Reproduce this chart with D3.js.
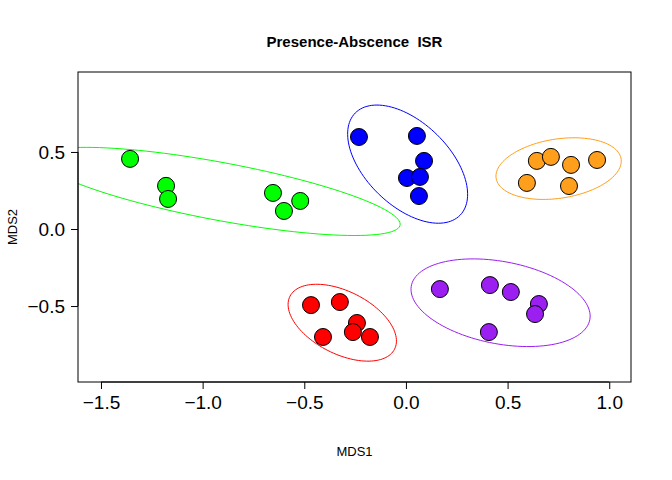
<!DOCTYPE html>
<html><head><meta charset="utf-8">
<script src="https://cdn.jsdelivr.net/npm/d3@7"></script>
<style>body{margin:0;background:#fff}</style></head>
<body><svg></svg>
<script>
var groups = ["green","blue","orange","red","purple"]
var colors = ["#00ff00","#0000ff","#ff9f1c","#ff0000","#9a1ff0"]
var mds1 = [
  [-1.357,-1.18,-1.17,-0.654,-0.60,-0.52],
  [-0.231,0.054,0.089,0.005,0.069,0.064],
  [0.595,0.644,0.713,0.812,0.802,0.94],
  [-0.467,-0.325,-0.241,-0.261,-0.408,-0.177],
  [0.167,0.413,0.516,0.654,0.635,0.408]
]
var mds2 = [
  [0.455,0.28,0.195,0.234,0.117,0.182],
  [0.597,0.604,0.442,0.331,0.338,0.214],
  [0.299,0.442,0.468,0.416,0.279,0.448],
  [-0.494,-0.474,-0.610,-0.669,-0.701,-0.701],
  [-0.390,-0.364,-0.409,-0.487,-0.552,-0.669]
]
var xTicks = [-1.5,-1.0,-0.5,0.0,0.5,1.0]
var yTicks = [-0.5,0.0,0.5]

var svg = d3.select("svg").attr("width",672).attr("height",480)
var L=78,R=631,T=72,B=382
var x = d3.scaleLinear().domain([-1.613,1.107]).range([L,R])
var y = d3.scaleLinear().domain([-0.993,1.019]).range([B,T])

svg.append("clipPath").attr("id","clip").append("rect")
  .attr("x",L).attr("y",T).attr("width",R-L).attr("height",B-T)

// covariance ellipses (95%)
var k = Math.sqrt(5.991)
groups.forEach(function(g,i){
  var xs=mds1[i], ys=mds2[i], n=xs.length
  var mx=d3.mean(xs), my=d3.mean(ys)
  var sxx=0,syy=0,sxy=0
  for(var j=0;j<n;j++){var dx=xs[j]-mx,dy=ys[j]-my;sxx+=dx*dx;syy+=dy*dy;sxy+=dx*dy}
  sxx/=n-1;syy/=n-1;sxy/=n-1
  var tr=sxx+syy, det=sxx*syy-sxy*sxy
  var l1=tr/2+Math.sqrt(tr*tr/4-det), l2=tr/2-Math.sqrt(tr*tr/4-det)
  var th=Math.atan2(l1-sxx,sxy)
  if(Math.abs(sxy)<1e-12) th = sxx>=syy?0:Math.PI/2
  var a=k*Math.sqrt(l1), b=k*Math.sqrt(Math.max(l2,0))
  var pts=d3.range(0,361,3).map(function(t){
    t=t*Math.PI/180
    var ex=a*Math.cos(t), ey=b*Math.sin(t)
    return [x(mx+ex*Math.cos(th)-ey*Math.sin(th)), y(my+ex*Math.sin(th)+ey*Math.cos(th))]
  })
  svg.append("path").attr("d",d3.line()(pts)).attr("fill","none")
    .attr("stroke",colors[i]).attr("stroke-width",1).attr("clip-path","url(#clip)")
})

groups.forEach(function(g,i){
  svg.selectAll("c"+i).data(mds1[i]).enter().append("circle")
    .attr("cx",function(d){return x(d)})
    .attr("cy",function(d,j){return y(mds2[i][j])})
    .attr("r",8.5).attr("fill",colors[i]).attr("stroke","#000").attr("stroke-width",1)
})

svg.append("rect").attr("x",L).attr("y",T).attr("width",R-L).attr("height",B-T)
  .attr("fill","none").attr("stroke","#000")

var font="Liberation Sans, Arial, sans-serif"
svg.append("g").attr("transform","translate(0,"+B+")")
  .call(d3.axisBottom(x).tickValues(xTicks).tickFormat(d3.format(".1f")).tickSize(7).tickPadding(7))
  .call(function(g){g.select(".domain").attr("d","M"+x(-1.5)+",0H"+x(1.0))
    g.selectAll("text").style("font-size","19px").style("font-family",font)})
svg.append("g").attr("transform","translate("+L+",0)")
  .call(d3.axisLeft(y).tickValues(yTicks).tickFormat(d3.format(".1f")).tickSize(7).tickPadding(6))
  .call(function(g){g.select(".domain").attr("d","M0,"+y(-0.5)+"V"+y(0.5))
    g.selectAll("text").style("font-size","19px").style("font-family",font)})

svg.append("text").attr("x",(L+R)/2).attr("y",47).attr("text-anchor","middle")
  .style("font-family",font).style("font-weight","bold").style("font-size","15px")
  .style("white-space","pre")
  .text("Presence-Abscence  ISR")
svg.append("text").attr("x",(L+R)/2).attr("y",456).attr("text-anchor","middle")
  .style("font-family",font).style("font-size","13px").text("MDS1")
svg.append("text").attr("transform","translate(17,"+((T+B)/2)+") rotate(-90)").attr("text-anchor","middle")
  .style("font-family",font).style("font-size","13px").text("MDS2")
</script></body></html>
